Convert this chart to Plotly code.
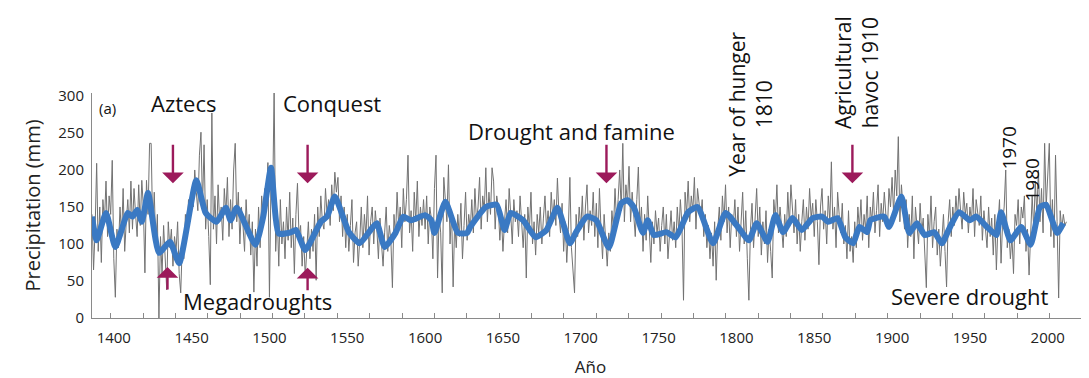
import plotly.graph_objects as go

# annual precipitation reconstruction (mm), 1386-2012
years = list(range(1386, 2013))
precip = [
    140, 65, 120, 209,
    90, 150, 75, 160, 130, 185, 110, 165, 140, 213,          # 1390s
    80, 28, 120, 95, 150, 110, 175, 90, 130, 160,            # 1400s
    115, 185, 120, 175, 140, 110, 180, 125, 186, 150,        # 1410s
    61, 186, 140, 236, 236, 120, 170, 95, 140, 0,            # 1420s
    110, 60, 125, 85, 38, 130, 95, 120, 70, 110,             # 1430s
    90, 130, 60, 34, 100, 80, 140, 110, 160, 130,            # 1440s
    175, 150, 200, 170, 145, 220, 251, 150, 234, 120,        # 1450s
    160, 110, 45, 277, 120, 165, 100, 180, 130, 150,         # 1460s
    105, 175, 140, 190, 110, 160, 120, 200, 236, 130,        # 1470s
    170, 100, 150, 125, 90, 160, 115, 140, 85, 130,          # 1480s
    35, 120, 70, 150, 95, 165, 130, 175, 150, 210,           # 1490s
    28, 190, 150, 309, 90, 140, 70, 160, 100, 130,           # 1500s
    80, 150, 105, 170, 95, 135, 60, 140, 182, 110,           # 1510s
    125, 70, 110, 55, 95, 130, 80, 120, 90, 140,             # 1520s
    51, 150, 110, 165, 130, 120, 175, 140, 160, 125,         # 1530s
    180, 145, 197, 170, 190, 130, 165, 110, 150, 95,         # 1540s
    140, 90, 125, 160, 75, 115, 130, 70, 105, 150,           # 1550s
    95, 140, 110, 165, 85, 130, 150, 100, 145, 120,          # 1560s
    80, 135, 100, 70, 115, 150, 90, 125, 105, 41,            # 1570s
    140, 110, 170, 125, 150, 95, 175, 130, 160, 220,         # 1580s
    115, 145, 90, 170, 130, 185, 110, 150, 125, 160,         # 1590s
    120, 165, 100, 150, 135, 80, 175, 220, 54, 140,          # 1600s
    115, 34, 190, 160, 130, 207, 100, 145, 42, 130,          # 1610s
    95, 140, 110, 155, 80, 125, 170, 105, 140, 120,          # 1620s
    160, 115, 175, 130, 150, 190, 120, 165, 145, 203,        # 1630s
    130, 170, 140, 203, 185, 120, 165, 150, 105, 140,        # 1640s
    90, 130, 160, 115, 175, 140, 100, 160, 130, 145,         # 1650s
    110, 165, 125, 95, 140, 54, 150, 120, 170, 100,          # 1660s
    130, 85, 140, 115, 150, 100, 135, 165, 120, 145,         # 1670s
    110, 170, 135, 160, 125, 189, 140, 115, 155, 90,         # 1680s
    130, 75, 120, 190, 95, 60, 34, 140, 110, 150,            # 1690s
    120, 165, 105, 150, 180, 115, 145, 125, 170, 110,        # 1700s
    155, 95, 175, 120, 80, 140, 105, 70, 115, 90,            # 1710s
    145, 120, 175, 130, 160, 200, 145, 236, 130, 180,        # 1720s
    155, 205, 130, 170, 140, 110, 160, 204, 120, 150,        # 1730s
    90, 140, 105, 165, 120, 75, 130, 100, 145, 115,          # 1740s
    135, 90, 125, 150, 100, 140, 80, 120, 145, 105,          # 1750s
    130, 95, 150, 115, 160, 125, 24, 170, 140, 185,          # 1760s
    130, 165, 145, 190, 120, 175, 150, 135, 160, 110,        # 1770s
    140, 95, 125, 80, 115, 70, 130, 51, 120, 150,            # 1780s
    105, 165, 130, 180, 115, 150, 95, 140, 125, 160,         # 1790s
    110, 150, 90, 135, 170, 100, 145, 80, 24, 120,           # 1800s
    155, 95, 140, 175, 110, 150, 85, 130, 100, 145,          # 1810s
    75, 120, 90, 54, 160, 135, 180, 115, 150, 125,           # 1820s
    95, 140, 110, 170, 125, 180, 150, 115, 160, 100,         # 1830s
    140, 90, 130, 160, 105, 150, 120, 175, 135, 155,         # 1840s
    110, 160, 130, 72, 150, 175, 120, 145, 100, 165,         # 1850s
    130, 211, 120, 150, 95, 170, 140, 115, 155, 100,         # 1860s
    125, 80, 145, 90, 110, 75, 130, 95, 150, 120,            # 1870s
    160, 105, 140, 120, 165, 95, 150, 130, 170, 115,         # 1880s
    145, 180, 110, 155, 130, 170, 140, 120, 175, 150,        # 1890s
    190, 140, 200, 165, 245, 130, 180, 150, 120, 160,        # 1900s
    95, 140, 110, 165, 80, 150, 125, 100, 155, 115,          # 1910s
    135, 90, 41, 140, 110, 165, 95, 130, 150, 85,            # 1920s
    120, 70, 105, 140, 90, 42, 130, 160, 110, 150,           # 1930s
    125, 165, 135, 175, 145, 120, 170, 140, 155, 115,        # 1940s
    150, 130, 175, 110, 160, 140, 125, 165, 105, 145,        # 1950s
    120, 95, 150, 110, 135, 85, 140, 65, 125, 160,           # 1960s
    74, 130, 150, 200, 95, 120, 80, 110, 60, 140,            # 1970s
    125, 160, 100, 150, 135, 165, 90, 120, 58, 110,          # 1980s
    165, 120, 185, 140, 200, 130, 175, 115, 236, 150,        # 1990s
    190, 236, 110, 160, 95, 220, 130, 27, 145, 120,          # 2000s
    140, 125, 130,
]

# smoothed curve (blue), turning points
smooth_years = [1386, 1389, 1395, 1401, 1409, 1412, 1415, 1418, 1422, 1429,
                1436, 1442, 1453, 1459, 1466, 1472, 1475, 1479, 1491, 1496,
                1501, 1506, 1514, 1517, 1523, 1533, 1537, 1542, 1551, 1558,
                1565, 1569, 1574, 1581, 1586, 1591, 1600, 1604, 1606, 1613,
                1621, 1627, 1629, 1639, 1646, 1651, 1655, 1663, 1671, 1678,
                1685, 1693, 1697, 1704, 1710, 1718, 1726, 1730, 1734, 1740,
                1743, 1747, 1755, 1761, 1769, 1775, 1785, 1793, 1801, 1808,
                1813, 1820, 1825, 1830, 1836, 1842, 1849, 1855, 1859, 1865,
                1870, 1875, 1879, 1884, 1886, 1895, 1898, 1906, 1911, 1916,
                1921, 1927, 1932, 1937, 1943, 1950, 1954, 1961, 1967, 1970,
                1976, 1983, 1989, 1995, 1999, 2006, 2010]
smooth_vals = [137, 105, 142, 96, 142, 137, 146, 130, 169, 88,
               103, 74, 186, 142, 130, 149, 132, 149, 99, 137,
               203, 114, 116, 119, 92, 130, 137, 164, 116, 101,
               119, 128, 96, 115, 137, 132, 139, 132, 115, 157,
               115, 115, 123, 150, 153, 119, 142, 132, 109, 119,
               149, 101, 116, 137, 132, 95, 155, 159, 150, 115,
               132, 112, 116, 109, 143, 150, 101, 142, 123, 105,
               128, 103, 139, 116, 135, 119, 135, 137, 130, 135,
               109, 101, 123, 116, 132, 137, 123, 164, 115, 128,
               112, 116, 101, 122, 143, 132, 137, 123, 112, 143,
               105, 123, 99, 150, 153, 115, 128]

x_ticks = [1400, 1450, 1500, 1550, 1600, 1650, 1700, 1750, 1800, 1850, 1900, 1950, 2000]
y_ticks = [0, 50, 100, 150, 200, 250, 300]

font_name = "Open Sans"
arrow_color = "#9c1a5b"
text_color = "#111111"

fig = go.Figure()
fig.add_trace(go.Scatter(x=years, y=precip, mode="lines",
                         line=dict(color="#727272", width=1), hoverinfo="skip"))
fig.add_trace(go.Scatter(x=smooth_years, y=smooth_vals, mode="lines",
                         line=dict(color="#3a79c3", width=6, shape="spline", smoothing=0.5)))

# event labels in data coords
labels = [
    dict(x=1396, y=284, text="(a)", size=15),
    dict(x=1445, y=290, text="Aztecs", size=22),
    dict(x=1540, y=290, text="Conquest", size=22),
    dict(x=1694, y=253, text="Drought and famine", size=22),
    dict(x=1492, y=23, text="Megadroughts", size=22),
    dict(x=1950, y=30, text="Severe drought", size=22),
]
for a in labels:
    fig.add_annotation(x=a["x"], y=a["y"], text=a["text"], showarrow=False,
                       xanchor="center", yanchor="middle",
                       font=dict(size=a["size"], color=text_color, family=font_name))

# rotated labels; the tall ones stick out above the plot so use paper y
rotated = [
    dict(x=1809, y=0.95, yref="paper", text="Year of hunger<br>1810", size=21),
    dict(x=1877, y=1.09, yref="paper", text="Agricultural<br>havoc 1910", size=21),
    dict(x=1975, y=230, yref="y", text="1970", size=19),
    dict(x=1990, y=186, yref="y", text="1980", size=19),
]
for a in rotated:
    fig.add_annotation(x=a["x"], y=a["y"], yref=a["yref"], text=a["text"], showarrow=False,
                       textangle=-90, xanchor="center", yanchor="middle",
                       font=dict(size=a["size"], color=text_color, family=font_name))

# arrows: (year, tip value, pixel offset of tail)
arrows = [(1438, 182, -40), (1434.5, 69, 24), (1524.5, 182, -40), (1524.5, 68, 24),
          (1716.5, 182, -40), (1874.5, 182, -40)]
for ax_year, tip, off in arrows:
    fig.add_annotation(x=ax_year, y=tip, ax=0, ay=off, text="", showarrow=True,
                       arrowhead=1, arrowsize=1.5, arrowwidth=2.4, arrowcolor=arrow_color)

fig.update_layout(
    width=1081, height=370,
    margin=dict(l=84, r=0, t=85, b=60),
    paper_bgcolor="white", plot_bgcolor="white",
    showlegend=False,
    font=dict(family=font_name, color="#222222"),
    xaxis=dict(range=[1386, 2026.5], tickvals=x_ticks, ticks="inside", ticklen=0,
               showgrid=False, zeroline=False, showline=True, linecolor="#8a8a8a",
               linewidth=1, tickfont=dict(size=15, color="#222222"), ticklabelstandoff=6,
               minor=dict(ticks="inside", ticklen=5, tickcolor="#8a8a8a",
                          tick0=1398, dtick=20.8, showgrid=False),
               title=dict(text="Año", font=dict(size=17), standoff=16)),
    yaxis=dict(range=[0, 304], tickvals=y_ticks, ticks="", showgrid=False,
               zeroline=False, showline=True, linecolor="#8a8a8a", linewidth=1,
               tickfont=dict(size=15, color="#222222"), ticklabelstandoff=4,
               title=dict(text="Precipitation (mm)", font=dict(size=20), standoff=12)),
)

fig.write_html("out.html")
